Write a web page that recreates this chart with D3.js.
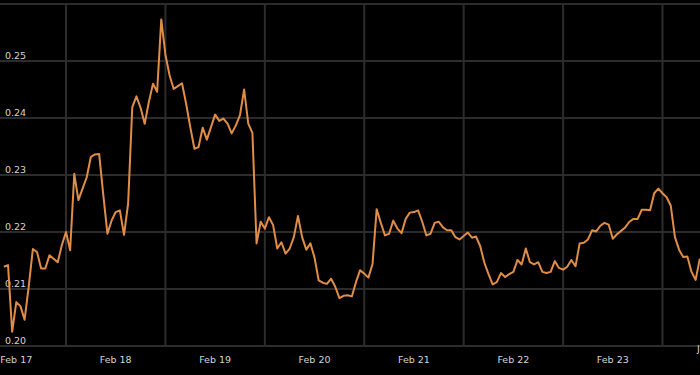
<!DOCTYPE html>
<html>
<head>
<meta charset="utf-8">
<script src="https://cdn.jsdelivr.net/npm/d3@7"></script>
<style>
  html, body { margin: 0; padding: 0; background: #000; }
  svg { display: block; }
</style>
</head>
<body>
<svg id="chart" width="700" height="375"></svg>
<script>
// hourly values, starting Feb 17 09:00
const startHour = 9;
const values = [
  0.2139, 0.2142, 0.2025, 0.2077, 0.2070, 0.2046, 0.2104, 0.2170, 0.2165, 0.2136,
  0.2136, 0.2159, 0.2153, 0.2147, 0.2177, 0.2200, 0.2168, 0.2302, 0.2256, 0.2276,
  0.2296, 0.2332, 0.2336, 0.2337, 0.2265, 0.2197, 0.2220, 0.2235, 0.2238, 0.2195,
  0.2250, 0.2419, 0.2438, 0.2418, 0.2390, 0.2428, 0.2460, 0.2446, 0.2573, 0.2511,
  0.2475, 0.2451, 0.2456, 0.2461, 0.2425, 0.2384, 0.2346, 0.2349, 0.2383, 0.2362,
  0.2384, 0.2406, 0.2395, 0.2399, 0.2390, 0.2373, 0.2387, 0.2405, 0.2450, 0.2390,
  0.2374, 0.2180, 0.2218, 0.2206, 0.2226, 0.2212, 0.2171, 0.2182, 0.2162, 0.2171,
  0.2191, 0.2228, 0.2191, 0.2169, 0.2180, 0.2155, 0.2115, 0.2111, 0.2109, 0.2118,
  0.2104, 0.2084, 0.2088, 0.2089, 0.2087, 0.2112, 0.2133, 0.2127, 0.2120, 0.2144,
  0.2240, 0.2216, 0.2194, 0.2197, 0.2220, 0.2206, 0.2198, 0.2223, 0.2234, 0.2235,
  0.2238, 0.2218, 0.2194, 0.2197, 0.2216, 0.2218, 0.2208, 0.2203, 0.2203, 0.2191,
  0.2187, 0.2193, 0.2199, 0.2190, 0.2192, 0.2175, 0.2146, 0.2126, 0.2108, 0.2112,
  0.2128, 0.2121, 0.2126, 0.2130, 0.2151, 0.2143, 0.2171, 0.2147, 0.2143, 0.2147,
  0.2130, 0.2128, 0.2130, 0.2149, 0.2137, 0.2134, 0.2139, 0.2151, 0.2140, 0.2180,
  0.2181, 0.2187, 0.2203, 0.2201, 0.2211, 0.2216, 0.2213, 0.2188, 0.2196, 0.2202,
  0.2208, 0.2218, 0.2223, 0.2223, 0.2239, 0.2239, 0.2238, 0.2268, 0.2276, 0.2268,
  0.2261, 0.2246, 0.2191, 0.2169, 0.2156, 0.2157, 0.2130, 0.2116, 0.2153
];
const yTicks = [0.20, 0.21, 0.22, 0.23, 0.24, 0.25, 0.26];
const dayLabels = ["Feb 17", "Feb 18", "Feb 19", "Feb 20", "Feb 21", "Feb 22", "Feb 23"];

const svg = d3.select("#chart");
const W = 700;
const labelFont = "9.5px 'DejaVu Sans', sans-serif";

const t0 = Date.UTC(2024, 1, 17);
const HOUR = 3600 * 1000;
const data = values.map((v, i) => ({ t: new Date(t0 + (startHour + i) * HOUR), v: v }));

const x = d3.scaleUtc()
  .domain([new Date(Date.UTC(2024, 1, 18)), new Date(Date.UTC(2024, 1, 24))])
  .range([66, 662.5]);
const y = d3.scaleLinear().domain([0.20, 0.26]).range([346, 4]);

svg.append("rect").attr("width", W).attr("height", 375).attr("fill", "#000");

// horizontal grid
svg.append("g").selectAll("line").data(yTicks).join("line")
  .attr("x1", 0).attr("x2", W)
  .attr("y1", d => y(d)).attr("y2", d => y(d))
  .attr("stroke", "#2c2c2c").attr("stroke-width", 2);

// vertical grid at midnight
const midnights = d3.utcDay.range(new Date(Date.UTC(2024, 1, 18)), new Date(Date.UTC(2024, 1, 25)));
svg.append("g").selectAll("line").data(midnights).join("line")
  .attr("x1", d => x(d)).attr("x2", d => x(d))
  .attr("y1", y(0.26)).attr("y2", y(0.20))
  .attr("stroke", "#2c2c2c").attr("stroke-width", 2);

// y labels inside plot
svg.append("g").selectAll("text").data(yTicks.slice(0, 6)).join("text")
  .attr("x", 5).attr("y", d => y(d) - 2)
  .attr("fill", "#d4d4d4")
  .style("font", labelFont)
  .text(d => d.toFixed(2));

// day labels centred at noon
svg.append("g").selectAll("text").data(dayLabels).join("text")
  .attr("x", (d, i) => x(new Date(Date.UTC(2024, 1, 17 + i, 12))))
  .attr("y", 363)
  .attr("text-anchor", "middle")
  .attr("fill", "#d4d4d4")
  .style("font", labelFont)
  .text(d => d);

svg.append("text")
  .attr("x", 697).attr("y", 352)
  .attr("fill", "#d4d4d4")
  .style("font", labelFont)
  .text("J");

// price line
const line = d3.line().x(d => x(d.t)).y(d => y(d.v));
svg.append("path").datum(data)
  .attr("d", line)
  .attr("fill", "none")
  .attr("stroke", "#e08d47")
  .attr("stroke-width", 2)
  .attr("stroke-linejoin", "round");
</script>
</body>
</html>
